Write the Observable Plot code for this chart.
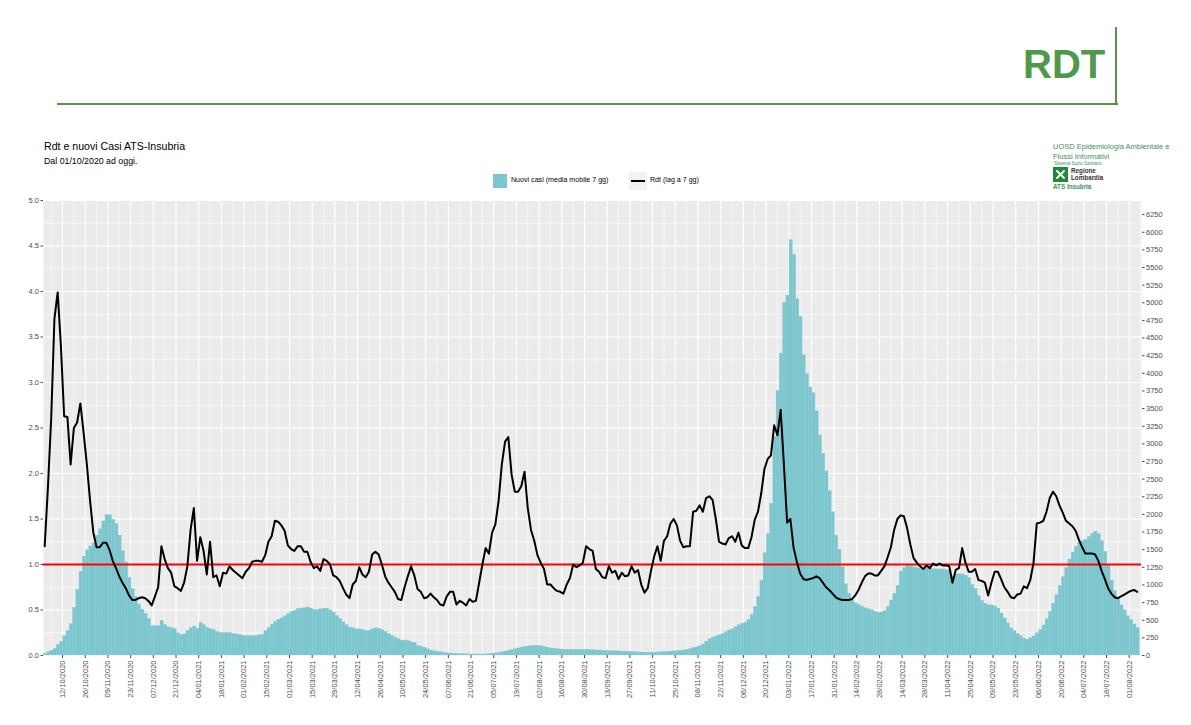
<!DOCTYPE html>
<html>
<head>
<meta charset="utf-8">
<script src="https://cdn.jsdelivr.net/npm/d3@7"></script>
<script src="https://cdn.jsdelivr.net/npm/@observablehq/plot@0.6"></script>
<style>
  html, body { margin: 0; padding: 0; background: #fff; }
  #page { position: relative; width: 1191px; height: 725px; overflow: hidden; font-family: "Liberation Sans", Arial, sans-serif; }
  .abs { position: absolute; white-space: nowrap; }
  #chart { position: absolute; left: 0; top: 190px; }
</style>
</head>
<body>
<div id="page">
  <div class="abs" style="left:57px; top:103px; width:1061px; height:2px; background:#5d9150;"></div>
  <div class="abs" style="left:1115px; top:27px; width:2px; height:78px; background:#5d9150;"></div>
  <div class="abs" style="left:1023px; top:40px; font-size:40px; font-weight:bold; color:#4e9a4a; line-height:48px;">RDT</div>

  <div class="abs" style="left:44px; top:140px; font-size:10.6px; color:#000;">Rdt e nuovi Casi ATS-Insubria</div>
  <div class="abs" style="left:44px; top:156px; font-size:8.8px; color:#000;">Dal 01/10/2020 ad oggi.</div>

  <div class="abs" style="left:1053px; top:142px; font-size:7.5px; color:#3f8f5f; line-height:10px;">UOSD Epidemiologia Ambientale e<br>Flussi Informativi</div>
  <div class="abs" style="left:1054px; top:161px; font-size:4.5px; color:#3f8f5f;">Sistema Socio Sanitario</div>
  <svg class="abs" style="left:1053px; top:167px;" width="15" height="15" viewBox="0 0 15 15">
    <rect x="0" y="0" width="15" height="15" fill="#1f8a3a"/>
    <g stroke="#fff" stroke-width="1.8" stroke-linecap="round">
      <line x1="4" y1="4" x2="11" y2="11"/><line x1="11" y1="4" x2="4" y2="11"/>
    </g>
    <circle cx="7.5" cy="7.5" r="1.6" fill="#fff"/>
  </svg>
  <div class="abs" style="left:1071px; top:167px; font-size:6.3px; font-weight:bold; color:#333; line-height:7px;">Regione<br>Lombardia</div>
  <div class="abs" style="left:1053px; top:183px; font-size:6.3px; font-weight:bold; color:#3f8f5f;">ATS Insubria</div>

  <div class="abs" style="left:493px; top:174px; width:14px; height:14px; background:#7cc6cd;"></div>
  <div class="abs" style="left:511px; top:176px; font-size:7.1px; color:#000;">Nuovi casi (media mobile 7 gg)</div>
  <div class="abs" style="left:629px; top:172px; width:18px; height:18px; background:#f2f2f2;"></div>
  <div class="abs" style="left:631px; top:180px; width:14px; height:2px; background:#000;"></div>
  <div class="abs" style="left:650px; top:176px; font-size:7.1px; color:#000;">Rdt (lag a 7 gg)</div>

  <div id="chart"></div>
</div>
<script>
// Start date of the series and spacing (days) between readings
const startDate = "2020-10-01";
const stepDays = 2;

// Nuovi casi (media mobile 7 gg), every 2 days from 01/10/2020
const cases = [
  25,45,65,95,150,195,275,350,445,675,
  930,1185,1400,1490,1545,1590,1700,1790,1900,1990,
  1990,1925,1860,1700,1480,1320,1100,940,830,720,
  650,590,520,415,415,415,490,430,400,390,
  375,315,290,300,350,385,410,380,460,430,
  395,375,360,335,320,320,320,320,
  305,300,290,280,275,275,275,280,285,290,
  345,390,435,475,505,525,555,585,615,635,
  660,665,670,680,665,645,645,655,665,665,
  640,610,560,520,470,430,395,385,370,370,
  360,345,350,370,385,380,360,335,305,280,
  255,230,210,212,205,185,180,
  140,125,110,90,70,60,52,45,38,33,
  28,26,24,22,20,18,15,14,14,14,
  14,16,20,26,30,36,45,55,65,75,
  90,100,112,120,128,132,136,137,130,118,
  110,100,95,90,85,82,80,80,80,80,
  80,80,80,78,75,72,70,
  68,66,63,61,59,57,55,53,52,50,
  47,44,42,40,38,39,41,43,45,48,
  51,55,58,63,67,72,80,90,105,115,
  130,155,195,230,255,270,285,305,330,355,
  370,400,430,450,465,505,575,690,830,1060,
  1450,1720,2150,3100,3750,4280,5000,
  5100,5890,5680,5050,4800,4260,3990,3800,3720,3460,
  3120,2860,2610,2330,2030,1700,1500,1250,1010,875,
  780,740,715,690,670,655,640,620,605,610,
  630,690,780,875,990,1190,1240,1265,1265,1250,
  1240,1225,1220,1235,1235,1222,1220,1220,1220,1210,
  1205,1120,1150,1150,1150,1130,1100,
  1000,945,840,775,735,715,710,695,665,595,
  525,455,385,345,305,275,240,225,245,270,
  315,360,425,515,620,735,855,985,1110,1240,
  1360,1460,1540,1600,1620,1640,1680,1725,1755,1720,
  1620,1470,1280,1060,910,800,710,640,555,505,
  440,390
];

// Rdt (lag a 7 gg), same dates
const rdt = [
  1.20,1.85,2.60,3.70,3.99,3.40,2.63,2.62,2.10,2.50,
  2.56,2.77,2.45,2.10,1.70,1.35,1.19,1.19,1.24,1.24,
  1.16,1.04,0.96,0.87,0.80,0.74,0.66,0.61,0.61,0.63,
  0.64,0.63,0.60,0.55,0.65,0.75,1.20,1.06,0.96,0.91,
  0.76,0.74,0.71,0.80,0.98,1.38,1.62,1.04,1.30,1.15,
  0.89,1.25,0.86,0.88,0.76,0.91,0.90,0.98,
  0.94,0.91,0.88,0.85,0.92,0.96,1.03,1.04,1.04,1.03,
  1.10,1.25,1.31,1.48,1.47,1.43,1.37,1.21,1.17,1.15,
  1.20,1.20,1.14,1.14,1.03,0.96,0.98,0.93,1.06,1.04,
  1.00,0.88,0.86,0.82,0.74,0.67,0.63,0.78,0.82,0.97,
  0.89,0.86,0.92,1.11,1.14,1.11,1.00,0.87,0.80,0.75,
  0.70,0.62,0.61,0.75,0.87,0.98,0.88,
  0.73,0.70,0.63,0.64,0.68,0.64,0.61,0.56,0.55,0.65,
  0.70,0.70,0.56,0.60,0.58,0.55,0.62,0.59,0.60,0.80,
  1.00,1.18,1.12,1.35,1.44,1.70,2.10,2.35,2.40,1.99,
  1.80,1.80,1.86,2.02,1.62,1.38,1.26,1.10,1.02,0.95,
  0.78,0.78,0.74,0.71,0.70,0.68,0.78,0.85,1.00,0.97,
  0.99,1.02,1.20,1.17,1.15,0.95,0.92,
  0.86,0.85,0.98,0.91,0.93,0.84,0.91,0.87,0.88,0.98,
  0.91,0.94,0.78,0.69,0.74,0.93,1.09,1.20,1.04,1.26,
  1.31,1.45,1.50,1.43,1.26,1.19,1.20,1.20,1.58,1.59,
  1.65,1.58,1.73,1.75,1.71,1.50,1.25,1.23,1.22,1.29,
  1.31,1.25,1.35,1.21,1.18,1.18,1.30,1.49,1.58,1.78,
  2.05,2.16,2.20,2.53,2.42,2.70,2.10,
  1.46,1.50,1.18,1.03,0.90,0.84,0.83,0.84,0.85,0.87,
  0.85,0.80,0.75,0.72,0.68,0.64,0.62,0.61,0.61,0.61,
  0.62,0.66,0.72,0.80,0.87,0.90,0.90,0.88,0.88,0.93,
  0.98,1.08,1.19,1.38,1.50,1.54,1.53,1.40,1.22,1.07,
  1.02,0.98,0.95,0.99,0.96,1.01,0.99,1.01,0.99,0.99,
  0.98,0.80,0.94,0.96,1.18,1.02,0.92,
  0.92,0.95,0.83,0.82,0.80,0.66,0.80,0.92,0.92,0.84,
  0.75,0.70,0.64,0.63,0.67,0.68,0.76,0.74,0.83,1.02,
  1.45,1.46,1.48,1.58,1.73,1.80,1.75,1.65,1.57,1.48,
  1.45,1.42,1.37,1.27,1.19,1.12,1.12,1.12,1.11,1.04,
  0.93,0.84,0.74,0.68,0.64,0.63,0.65,0.67,0.69,0.71,
  0.72,0.70
];

// X tick labels (every 14 days)
const xTickLabels = [
  "12/10/2020","26/10/2020","09/11/2020","23/11/2020","07/12/2020","21/12/2020",
  "04/01/2021","18/01/2021","01/02/2021","15/02/2021","01/03/2021","15/03/2021",
  "29/03/2021","12/04/2021","26/04/2021","10/05/2021","24/05/2021","07/06/2021",
  "21/06/2021","05/07/2021","19/07/2021","02/08/2021","16/08/2021","30/08/2021",
  "13/09/2021","27/09/2021","11/10/2021","25/10/2021","08/11/2021","22/11/2021",
  "06/12/2021","20/12/2021","03/01/2022","17/01/2022","31/01/2022","14/02/2022",
  "28/02/2022","14/03/2022","28/03/2022","11/04/2022","25/04/2022","09/05/2022",
  "23/05/2022","06/06/2022","20/06/2022","04/07/2022","18/07/2022","01/08/2022"
];
// Left axis ticks (Rdt) and right axis ticks (cases)
const leftTicks = [0, 0.5, 1, 1.5, 2, 2.5, 3, 3.5, 4, 4.5, 5];
const rightTicks = [0,250,500,750,1000,1250,1500,1750,2000,2250,2500,2750,3000,3250,3500,3750,4000,4250,4500,4750,5000,5250,5500,5750,6000,6250];
const casesPerRdtUnit = 1290; // secondary axis scale factor
const threshold = [1];

const DAY = 864e5;
const t0 = Date.parse(startDate + "T00:00:00Z");
const parse = d3.utcParse("%d/%m/%Y");
const tickDates = xTickLabels.map(parse);
const xDomain = [new Date(t0 - 0.74 * DAY), new Date(t0 + 676.6 * DAY)];
const minorX = [new Date(tickDates[0] - 7 * DAY), ...tickDates.map(d => new Date(+d + 7 * DAY))]
  .filter(d => d >= xDomain[0] && d <= xDomain[1]);
const minorY = leftTicks.slice(0, -1).map(v => v + 0.25);

const data = cases.map((c, i) => ({
  date: new Date(t0 + i * stepDays * DAY),
  x1: new Date(t0 + (i * stepDays - 0.5) * DAY),
  x2: new Date(t0 + (i * stepDays + stepDays - 0.5) * DAY),
  cases: c,
  rdt: rdt[i]
}));

const chart = Plot.plot({
  width: 1191,
  height: 535,
  marginTop: 10,
  marginBottom: 70,
  marginLeft: 43,
  marginRight: 50,
  style: { fontFamily: "'Liberation Sans', Arial, sans-serif", background: "transparent", overflow: "visible" },
  x: { type: "utc", domain: xDomain },
  y: { domain: [0, 5] },
  marks: [
    Plot.frame({ fill: "#ebebeb", stroke: null }),
    Plot.gridY(minorY, { stroke: "#fff", strokeOpacity: 1, strokeWidth: 0.55 }),
    Plot.gridX(minorX, { stroke: "#fff", strokeOpacity: 1, strokeWidth: 0.55 }),
    Plot.gridY(leftTicks, { stroke: "#fff", strokeOpacity: 1, strokeWidth: 1.1 }),
    Plot.gridX(tickDates, { stroke: "#fff", strokeOpacity: 1, strokeWidth: 1.1 }),
    Plot.rectY(data, { x1: "x1", x2: "x2", y: d => d.cases / casesPerRdtUnit, fill: "#7cc6cd", stroke: "#86cbd1", strokeWidth: 0.3 }),
    Plot.ruleY(threshold, { stroke: "#ff0000", strokeWidth: 2 }),
    Plot.line(data, { x: "date", y: "rdt", stroke: "#000", strokeWidth: 2, strokeLinejoin: "round" }),
    Plot.axisY(leftTicks, { anchor: "left", tickFormat: d3.format(".1f"), tickSize: 2.5, tickPadding: 2, fontSize: 7.5, label: null, color: "#4d4d4d" }),
    Plot.axisY(rightTicks.map(v => v / casesPerRdtUnit), { anchor: "right", tickFormat: d => String(Math.round(d * casesPerRdtUnit)), tickSize: 2.5, tickPadding: 2, fontSize: 7.5, label: null, color: "#4d4d4d" }),
    Plot.axisX(tickDates, { anchor: "bottom", tickFormat: d3.utcFormat("%d/%m/%Y"), tickRotate: -90, tickSize: 3, tickPadding: 2, fontSize: 7.5, label: null, color: "#4d4d4d" })
  ]
});
document.getElementById("chart").appendChild(chart);
</script>
</body>
</html>
